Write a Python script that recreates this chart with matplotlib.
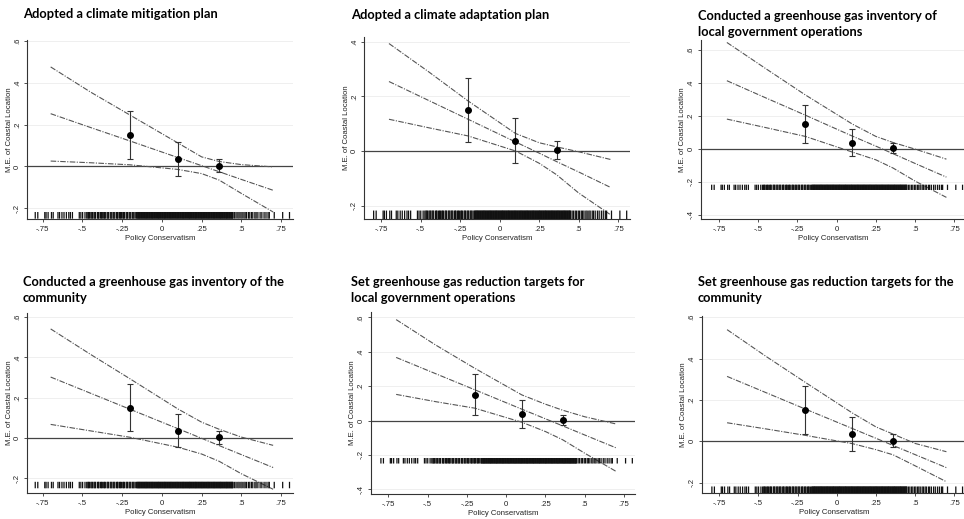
import numpy as np
import matplotlib
matplotlib.use("Agg")
from matplotlib import pyplot as plt

# marginal effect of coastal location, by policy conservatism
titles = [
    "Adopted a climate mitigation plan",
    "Adopted a climate adaptation plan",
    "Conducted a greenhouse gas inventory of\nlocal government operations",
    "Conducted a greenhouse gas inventory of the\ncommunity",
    "Set greenhouse gas reduction targets for\nlocal government operations",
    "Set greenhouse gas reduction targets for the\ncommunity",
]

# x positions where the curves were read
node_x = [-0.70, -0.45, -0.20, 0.10, 0.25, 0.36, 0.50, 0.70]

me_mid = [
    [0.253, 0.187, 0.122, 0.043, 0.004, -0.025, -0.062, -0.114],
    [0.254, 0.185, 0.116, 0.033, -0.008, -0.039, -0.077, -0.133],
    [0.413, 0.308, 0.204, 0.077, 0.016, -0.030, -0.089, -0.172],
    [0.302, 0.222, 0.142, 0.046, -0.002, -0.038, -0.083, -0.147],
    [0.367, 0.273, 0.179, 0.066, 0.010, -0.031, -0.084, -0.159],
    [0.314, 0.235, 0.156, 0.062, 0.015, -0.020, -0.064, -0.127],
]
me_upper = [
    [0.477, 0.357, 0.246, 0.113, 0.046, 0.024, 0.009, -0.002],
    [0.393, 0.290, 0.183, 0.064, 0.030, 0.015, -0.003, -0.031],
    [0.645, 0.485, 0.327, 0.150, 0.075, 0.038, -0.002, -0.063],
    [0.541, 0.415, 0.293, 0.144, 0.078, 0.043, 0.004, -0.037],
    [0.587, 0.440, 0.304, 0.149, 0.095, 0.060, 0.022, -0.020],
    [0.540, 0.410, 0.285, 0.137, 0.070, 0.035, -0.010, -0.050],
]
me_lower = [
    [0.026, 0.018, 0.008, -0.014, -0.034, -0.065, -0.129, -0.218],
    [0.116, 0.085, 0.055, 0.000, -0.045, -0.087, -0.154, -0.233],
    [0.180, 0.128, 0.075, -0.020, -0.067, -0.117, -0.196, -0.295],
    [0.067, 0.035, 0.003, -0.046, -0.080, -0.116, -0.178, -0.255],
    [0.152, 0.110, 0.072, -0.010, -0.064, -0.112, -0.190, -0.296],
    [0.090, 0.060, 0.029, -0.011, -0.040, -0.065, -0.118, -0.195],
]

# binned estimates
pt_x = [-0.20, 0.10, 0.36]
pt_y = [0.150, 0.036, 0.004]
pt_lo = [0.034, -0.045, -0.028]
pt_hi = [0.268, 0.119, 0.035]

# observed values of policy conservatism (rug)
rug_x = [
    -0.797, -0.781,
    -0.737, -0.729, -0.716, -0.695, -0.684,
    -0.654, -0.644, -0.629, -0.616, -0.601, -0.586, -0.576, -0.563,
    -0.520, -0.510, -0.499, -0.484, -0.473,
    -0.466, -0.461, -0.456, -0.447, -0.441, -0.436, -0.427, -0.422, -0.417,
    -0.405, -0.400, -0.396, -0.386, -0.380, -0.375, -0.366, -0.361, -0.356,
    -0.345, -0.340, -0.336, -0.325, -0.320, -0.315, -0.306, -0.301, -0.296,
    -0.285, -0.280, -0.276, -0.266, -0.261, -0.255, -0.246, -0.241, -0.236,
    -0.225, -0.220, -0.216, -0.206, -0.201, -0.196, -0.186, -0.181, -0.176,
    -0.168,
    -0.160, -0.156, -0.152, -0.148, -0.144, -0.141, -0.137, -0.133, -0.129,
    -0.125, -0.121, -0.117, -0.113, -0.109, -0.105, -0.101, -0.098, -0.094,
    -0.090, -0.086, -0.082, -0.078, -0.074, -0.070, -0.066, -0.062, -0.059,
    -0.055, -0.051, -0.047, -0.043, -0.039, -0.035, -0.031, -0.027, -0.023,
    -0.020, -0.016, -0.012, -0.008, -0.004, 0.000, 0.004, 0.008, 0.012,
    0.016, 0.019, 0.023, 0.027, 0.031, 0.035, 0.039, 0.043, 0.047, 0.051,
    0.055, 0.058, 0.062, 0.066, 0.070, 0.074, 0.078, 0.082, 0.086, 0.090,
    0.094, 0.097, 0.101, 0.105, 0.109, 0.113, 0.117, 0.121, 0.125, 0.129,
    0.133, 0.136, 0.140, 0.144, 0.148, 0.152, 0.156, 0.160, 0.164, 0.168,
    0.172, 0.175, 0.179, 0.183, 0.187, 0.191, 0.195, 0.199, 0.203, 0.207,
    0.211, 0.214, 0.218, 0.222, 0.226, 0.230, 0.234, 0.238, 0.242, 0.246,
    0.250, 0.253, 0.257, 0.261, 0.265, 0.269, 0.273, 0.277, 0.281, 0.285,
    0.289, 0.292, 0.296, 0.300, 0.304, 0.308, 0.312, 0.316, 0.320, 0.324,
    0.328, 0.331, 0.335, 0.339, 0.343, 0.347, 0.351, 0.355, 0.359, 0.363,
    0.367, 0.370, 0.374, 0.378, 0.382, 0.386, 0.390, 0.394, 0.398, 0.402,
    0.406, 0.409, 0.413, 0.417, 0.421, 0.425, 0.429, 0.433, 0.437, 0.441,
    0.444, 0.448,
    0.458, 0.467, 0.478, 0.486, 0.497, 0.505, 0.516, 0.524, 0.533, 0.545,
    0.553, 0.564, 0.572, 0.585, 0.593, 0.604, 0.618, 0.629, 0.643, 0.655,
    0.668, 0.676, 0.707, 0.760, 0.803,
]

x_ticks = [-0.75, -0.5, -0.25, 0, 0.25, 0.5, 0.75]
x_tick_labels = ["-.75", "-.5", "-.25", "0", ".25", ".5", ".75"]
y_tick_map = {-0.4: "-.4", -0.2: "-.2", 0: "0", 0.2: ".2", 0.4: ".4", 0.6: ".6"}

W, H = 964, 519
# pixel boxes (left, top, right, bottom) and data limits of each panel
boxes = [
    (27.3, 40.0, 293.0, 219.3),
    (364.3, 36.7, 630.0, 219.3),
    (701.0, 40.0, 966.0, 219.3),
    (27.3, 313.0, 293.0, 493.3),
    (370.7, 311.7, 635.0, 494.3),
    (701.7, 316.0, 966.0, 493.3),
]
xlims = [(-0.847, 0.825), (-0.856, 0.824), (-0.865, 0.825),
         (-0.847, 0.825), (-0.862, 0.820), (-0.862, 0.825)]
ylims = [(-0.253, 0.606), (-0.250, 0.418), (-0.428, 0.660),
         (-0.275, 0.620), (-0.429, 0.633), (-0.251, 0.606)]
# baseline of the last title line, in pixels
title_pos = [(23, 18), (351, 19), (698, 36), (23, 302), (351, 302), (698, 302)]

fig = plt.figure(figsize=(W / 100, H / 100), dpi=100)
fig.patch.set_facecolor("white")

line_kw = dict(color="#555555", lw=0.8, dashes=(5, 1.3, 1, 1.3))
small = dict(family="Liberation Sans", size=5.6, color="#222222")

for i in range(6):
    l, t, r, b = boxes[i]
    ax = fig.add_axes([l / W, 1 - b / H, (r - l) / W, (b - t) / H])
    ax.set_xlim(*xlims[i])
    ax.set_ylim(*ylims[i])

    yt = [v for v in y_tick_map if ylims[i][0] <= v <= ylims[i][1] + 0.01]
    for v in yt:
        if v != 0:
            ax.axhline(v, color="#ececec", lw=0.6, zorder=0)
    ax.axhline(0, color="#444444", lw=0.9, zorder=1)

    ax.plot(node_x, me_upper[i], **line_kw)
    ax.plot(node_x, me_mid[i], **line_kw)
    ax.plot(node_x, me_lower[i], **line_kw)

    rug = ax.vlines(rug_x, -0.25, -0.218, color="#111111", lw=0.9, zorder=3)
    rug.set_snap(False)

    yerr = [np.array(pt_y) - np.array(pt_lo), np.array(pt_hi) - np.array(pt_y)]
    ax.errorbar(pt_x, pt_y, yerr=yerr, fmt="o", color="black", ms=4,
                ecolor="#333333", elinewidth=0.8, capsize=2.2, capthick=0.8,
                zorder=4)

    for s in ["top", "right"]:
        ax.spines[s].set_visible(False)
    for s in ["left", "bottom"]:
        ax.spines[s].set_color("#333333")
        ax.spines[s].set_linewidth(0.8)

    ax.set_xticks(x_ticks)
    ax.set_xticklabels(x_tick_labels, **small)
    ax.set_yticks(yt)
    ax.set_yticklabels([y_tick_map[v] for v in yt], rotation=90,
                       va="center", **small)
    ax.tick_params(length=2.5, width=0.6, color="#333333", pad=2)
    ax.set_xlabel("Policy Conservatism", labelpad=1.5, **small)
    ax.set_ylabel("M.E. of Coastal Location", labelpad=1, **small)

    tx, ty = title_pos[i]
    fig.text(tx / W, 1 - ty / H, titles[i], family="Lato", weight="bold",
             size=9.3, va="baseline", ha="left", linespacing=1.35)

fig.savefig("out.png", dpi=100, facecolor="white")
